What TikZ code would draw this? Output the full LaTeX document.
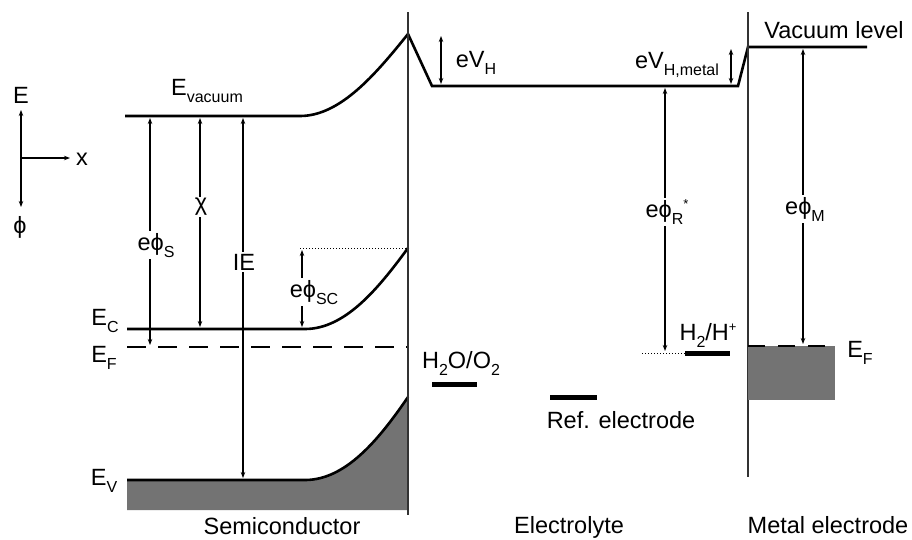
\documentclass[tikz,border=0pt]{standalone}
\usepackage{fontspec}
\setmainfont{Liberation Sans}
\usetikzlibrary{arrows.meta}
\definecolor{BandGray}{gray}{0.45}
\newcommand{\lo}[1]{\raisebox{-7pt}{\fontsize{16}{16}\selectfont #1}}
\newcommand{\hi}[1]{\raisebox{9pt}{\fontsize{13}{13}\selectfont #1}}

\begin{document}
\begin{tikzpicture}[x=1pt, y=-1pt, >={Stealth[length=6pt,width=4.5pt]},
    band/.style={line width=2.6pt},
    wall/.style={line width=1.8pt, draw=black!80},
    level/.style={<->, line width=1.2pt},
    bar/.style={line width=5pt},
    lbl/.style={fill=white, inner sep=1.5pt, anchor=base, font=\fontsize{23.5}{25}\selectfont},
    txt/.style={inner sep=1pt, anchor=base, font=\fontsize{23.5}{25}\selectfont}]
    \useasboundingbox (0,0) rectangle (912,539);

    % Axes
    \coordinate (O) at (21,158);
    \coordinate (Etop) at (21,110);
    \coordinate (xend) at (70,158);
    \coordinate (phibot) at (21,207);
    \draw[->, line width=1.5pt] (O) -- (Etop);
    \draw[->, line width=1.5pt] (O) -- (xend);
    \draw[->, line width=1.5pt] (O) -- (phibot);
    \node[txt] (axE) at (21,103) {E};
    \node[txt] (axx) at (82,165) {x};
    \node[txt] (axphi) at (20,233) {ϕ};

    % Semiconductor bands
    \fill[BandGray] (127,480) -- (305,480) .. controls (345,480) and (378,441) .. (408,397)
        -- (408,510) -- (127,510) -- cycle;
    \draw[band] (127,480) -- (305,480) .. controls (345,480) and (378,441) .. (408,397);
    \draw[band] (127,329) -- (305,329) .. controls (345,329) and (378,289) .. (408,248);
    \draw[band, dash pattern=on 19pt off 12pt] (127,347) -- (408,347);
    \draw[dotted, line width=1pt] (300,248) -- (408,248);

    % Vacuum level
    \draw[band] (125,116) -- (300,116) .. controls (340,116) and (375,75) .. (408,34)
        -- (432,86) -- (738,86) -- (748,47) -- (867,47);

    % Interfaces
    \draw[wall] (408,12) -- (408,515);
    \draw[wall] (748,12) -- (748,477);

    % Metal
    \fill[BandGray] (748,346) rectangle (835,400);
    \draw[band, dash pattern=on 17pt off 13pt] (748,346) -- (835,346);

    % Redox levels
    \draw[bar] (432,384) -- (477,384);
    \draw[bar] (550,397) -- (597,397);
    \draw[bar] (685,353) -- (730,353);
    \draw[dotted, line width=1pt] (642,353) -- (685,353);

    % Energy differences
    \coordinate (vacS) at (150,118);  \coordinate (efS) at (150,345);
    \coordinate (vacC) at (200,118);  \coordinate (ecC) at (200,327);
    \coordinate (vacI) at (243,118);  \coordinate (evI) at (243,478);
    \coordinate (scT) at (302,250);   \coordinate (scB) at (302,327);
    \coordinate (vhT) at (441,36);    \coordinate (vhB) at (441,84);
    \coordinate (vmT) at (731,49);    \coordinate (vmB) at (731,84);
    \coordinate (rT) at (665,88);     \coordinate (rB) at (665,351);
    \coordinate (mT) at (803,49);     \coordinate (mB) at (803,344);
    \draw[level] (vacS) -- (efS);
    \draw[level] (vacC) -- (ecC);
    \draw[level] (vacI) -- (evI);
    \draw[level] (scT) -- (scB);
    \draw[level] (vhT) -- (vhB);
    \draw[level] (vmT) -- (vmB);
    \draw[level] (rT) -- (rB);
    \draw[level] (mT) -- (mB);
    \node[lbl] (phiS) at (156,250) {eϕ\lo{S}};
    \node[lbl, anchor=center] (chi) at (201,207) {χ};
    \node[lbl] (IE) at (244,270) {IE};
    \node[lbl] (phiSC) at (314,297) {eϕ\lo{SC}};
    \node[lbl] (phiR) at (667,217) {eϕ\lo{R}\hi{*}};
    \node[lbl] (phiM) at (805,214) {eϕ\lo{M}};
    \node[txt] (VH) at (476,67) {eV\lo{H}};
    \node[txt] (VHm) at (677,68) {eV\lo{H,metal}};

    % Level names
    \node[txt] (Evac) at (207,95) {E\lo{vacuum}};
    \node[txt] (EC) at (105,325) {E\lo{C}};
    \node[txt] (EF) at (104,362) {E\lo{F}};
    \node[txt] (EV) at (104,485) {E\lo{V}};
    \node[txt] (EFm) at (860,357) {E\lo{F}};
    \node[txt] (vaclev) at (834,38) {Vacuum level};
    \node[txt] (ox) at (461,368) {H\lo{2}O/O\lo{2}};
    \node[txt] (red) at (708,340) {H\lo{2}/H\hi{+}};
    \node[txt] (ref) at (621,428) {Ref. electrode};

    % Regions
    \node[txt] (semi) at (282,534) {Semiconductor};
    \node[txt] (elec) at (569,533) {Electrolyte};
    \node[txt] (metal) at (828,533) {Metal electrode};
\end{tikzpicture}
\end{document}
